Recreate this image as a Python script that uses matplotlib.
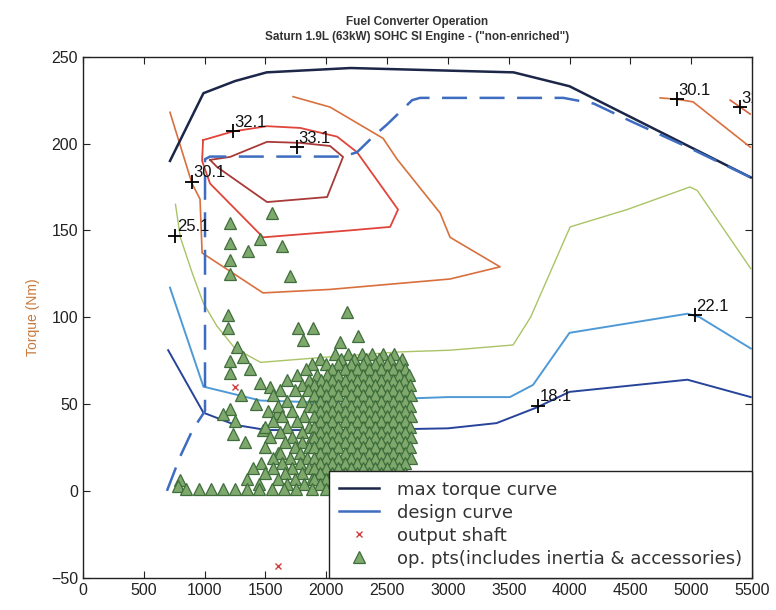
import matplotlib
matplotlib.use("Agg")
import matplotlib.pyplot as plt
from matplotlib.lines import Line2D

plt.rcParams['font.family'] = ['Liberation Sans', 'DejaVu Sans']

# ---------------- data ----------------
max_rpm = [715, 990, 1250, 1510, 2200, 3540, 4000, 5490]
max_T = [190, 229, 236, 241, 243.5, 241, 233, 180.5]

design_rpm = [690, 800, 900, 1003, 1003, 1044, 2138, 2253, 2385, 2500, 2706, 2771, 3950, 4200, 4500, 5000, 5490]
design_T = [0, 20, 35, 46, 191, 192.5, 192.5, 195, 204, 211, 225, 226.3, 226.3, 223, 213, 197, 180.5]

c18_rpm = [700, 990, 1250, 1510, 2000, 2600, 3000, 3400, 3730, 4000, 4970, 5490]
c18_T = [81, 45, 38, 35, 35, 35.5, 36, 39, 48, 57, 64, 54]

c22_rpm = [715, 990, 1460, 1920, 2600, 3000, 3510, 3700, 4000, 4970, 5070, 5490]
c22_T = [117, 60, 52, 51, 53, 54, 54, 61, 91, 102, 100, 82]

c25_rpm = [760, 800, 900, 990, 1100, 1250, 1460, 2000, 2600, 3020, 3536, 3680, 4005, 4474, 4990, 5050, 5490]
c25_T = [165, 146, 125, 108, 95, 82, 74, 77, 80, 81, 84, 100, 152, 162, 175, 173, 128]

c30_rpm = [715, 896, 962, 979, 1480, 2031, 3018, 3429, 3018, 2936, 2582, 2467, 2031, 1727]
c30_T = [218, 177, 168, 137, 114, 116, 122, 129, 146, 160, 191, 203, 221, 227]

c30b_rpm = [4745, 4885, 5016, 5485]
c30b_T = [226.3, 225.5, 224, 198]

c31_rpm = [5321, 5403, 5485]
c31_T = [225, 221, 217]

c32_rpm = [987, 1234, 1513, 1785, 2089, 2253, 2590, 2525, 2196, 1480, 1044, 979, 987]
c32_T = [202, 207, 210, 209, 204, 195, 162, 152, 150, 146, 177, 190, 202]

c33_rpm = [1044, 1209, 1513, 1785, 2031, 2138, 2007, 1513, 1102, 1044]
c33_T = [190.6, 192.3, 201, 200.4, 198.6, 192.3, 169.2, 166.3, 186.5, 190.6]

label_text = ["18.1", "22.1", "25.1", "30.1", "30.1", "31.1", "32.1", "33.1"]
label_rpm = [3740, 5030, 760, 896, 4885, 5403, 1234, 1760]
label_T = [49, 101, 147, 178, 225.5, 221, 207, 198]

# operating points: scattered ones
scat_rpm = [1209, 1554, 1456, 1636, 1209, 1357, 1209, 1209, 1702, 2171, 1192, 1192,
            1768, 1891, 1809, 2113, 2261, 1266, 1316, 1209, 1373, 1209, 1456, 1538,
            1209, 1233, 1595, 800, 780, 1250, 1300, 1420, 1150, 1330, 1480, 1600]
scat_T = [154, 160, 145, 141, 143, 138, 133, 125, 124, 103, 101, 94,
          94, 94, 87, 86, 89, 83, 77, 75, 70, 68, 62, 60,
          47, 33, 45, 6, 3, 40, 55, 50, 44, 28, 35, 22]

# operating points: dense cloud, one list of speeds per torque row
row_T = [79, 76, 73, 70, 67, 64, 61, 58, 55, 52, 49, 46, 43, 40, 37, 34,
         31, 28, 25, 22, 19, 16, 13, 10, 7, 4, 1]
row_rpm = [
    [2070, 2180, 2290, 2380, 2470, 2560],
    [1950, 2120, 2230, 2330, 2430, 2520, 2620],
    [1880, 2000, 2100, 2200, 2300, 2400, 2500, 2600],
    [1830, 2050, 2150, 2250, 2350, 2450, 2550, 2650],
    [1760, 1920, 2010, 2100, 2200, 2300, 2400, 2500, 2600, 2680],
    [1680, 1860, 1960, 2050, 2150, 2250, 2350, 2450, 2550, 2640],
    [1800, 1900, 2000, 2100, 2200, 2300, 2400, 2500, 2600, 2690],
    [1620, 1740, 1850, 1950, 2050, 2150, 2250, 2350, 2450, 2550, 2650],
    [1560, 1900, 2000, 2100, 2200, 2300, 2400, 2500, 2600, 2700],
    [1680, 1800, 1950, 2050, 2150, 2250, 2350, 2450, 2550, 2650],
    [1600, 1860, 1900, 2000, 2100, 2200, 2300, 2400, 2500, 2600, 2690],
    [1520, 1720, 1950, 2050, 2150, 2250, 2350, 2450, 2550, 2650],
    [1640, 1820, 1900, 2000, 2100, 2200, 2300, 2400, 2500, 2600, 2700],
    [1560, 1760, 1950, 2050, 2150, 2250, 2350, 2450, 2550, 2650],
    [1500, 1680, 1860, 1900, 2000, 2100, 2200, 2300, 2400, 2500, 2600, 2690],
    [1620, 1800, 1950, 2050, 2150, 2250, 2350, 2450, 2550, 2650],
    [1540, 1720, 1880, 1900, 2000, 2100, 2200, 2300, 2400, 2500, 2600, 2700],
    [1660, 1800, 1950, 2050, 2150, 2250, 2350, 2450, 2550, 2650],
    [1500, 1740, 1860, 1900, 2000, 2100, 2200, 2300, 2400, 2500, 2600, 2690],
    [1620, 1780, 1950, 2050, 2150, 2250, 2350, 2450, 2550, 2650],
    [1560, 1700, 1840, 1900, 2000, 2100, 2200, 2300, 2400, 2500, 2600, 2700],
    [1460, 1640, 1780, 1950, 2050, 2150, 2250, 2350, 2450, 2550, 2650],
    [1400, 1560, 1720, 1860, 1900, 2000, 2100, 2200, 2300, 2400, 2500, 2600],
    [1500, 1660, 1800, 1950, 2050, 2150, 2250, 2350, 2450, 2550, 2650],
    [1350, 1600, 1740, 1880, 1900, 2000, 2100, 2200, 2300, 2400, 2500, 2600],
    [1450, 1680, 1820, 1950, 2050, 2150, 2250, 2350, 2450, 2550],
    [850, 950, 1050, 1150, 1250, 1350, 1450, 1550, 1650, 1750, 1880, 2000, 2120, 2240, 2360, 2480, 2600],
]

out_rpm = [1600, 1250, 1800, 2100, 2400]
out_T = [-43, 60, 30, 45, 20]

xticks = [0, 500, 1000, 1500, 2000, 2500, 3000, 3500, 4000, 4500, 5000, 5500]
yticks = [-50, 0, 50, 100, 150, 200, 250]

# ---------------- figure ----------------
fig = plt.figure(figsize=(7.76, 6.10), dpi=100)
ax = fig.add_axes([0.107, 0.053, 0.862, 0.854])

contour_specs = [
    (c18_rpm, c18_T, '#27449a', 1.4),
    (c22_rpm, c22_T, '#4f9ad6', 1.4),
    (c25_rpm, c25_T, '#a9c466', 1.0),
    (c30_rpm, c30_T, '#d8703e', 1.2),
    (c30b_rpm, c30b_T, '#d8703e', 1.2),
    (c31_rpm, c31_T, '#d9603a', 1.2),
    (c32_rpm, c32_T, '#e0443a', 1.3),
    (c33_rpm, c33_T, '#a83a38', 1.3),
]
for xs, ys, col, lw in contour_specs:
    ax.plot(xs, ys, color=col, lw=lw, zorder=2)

for txt, lx, ly in zip(label_text, label_rpm, label_T):
    ax.plot([lx], [ly], marker='+', color='black', ms=10, mew=1.3, zorder=6)
    ax.annotate(txt, (lx, ly), xytext=(1, 1), textcoords='offset points',
                ha='left', va='bottom', fontsize=12, color='#111111',
                zorder=6, annotation_clip=True, clip_on=True)

ax.plot(max_rpm, max_T, color='#1b2648', lw=1.8, zorder=4)
ax.plot(design_rpm, design_T, color='#3d6cc0', lw=1.8, dashes=(10, 5), zorder=4)

ax.plot(out_rpm, out_T, 'x', color='#d04040', ms=5, mew=1.0, zorder=3)

op_x = list(scat_rpm)
op_y = list(scat_T)
for t, rpms in zip(row_T, row_rpm):
    for r in rpms:
        op_x.append(r)
        op_y.append(t)
ax.plot(op_x, op_y, '^', ms=8.5, mfc='#7ea86c', mec='#3f6e3c', mew=0.9, zorder=3)

ax.set_xlim(0, 5500)
ax.set_ylim(-50, 250)
ax.set_xticks(xticks)
ax.set_yticks(yticks)
ax.tick_params(direction='in', top=True, right=True, length=5, labelsize=11.5,
               colors='#222222')
for s in ax.spines.values():
    s.set_color('#222222')
    s.set_linewidth(1.0)

ax.set_ylabel('Torque (Nm)', fontsize=10, color='#c8783c', labelpad=8)
ax.set_title('Fuel Converter Operation\nSaturn 1.9L (63kW) SOHC SI Engine - ("non-enriched")',
             fontsize=8.5, fontweight='bold', color='#333333', pad=12, linespacing=1.3)

handles = [
    Line2D([], [], color='#1b2648', lw=1.8),
    Line2D([], [], color='#3d6cc0', lw=1.8),
    Line2D([], [], ls='none', marker='x', color='#d04040', ms=5, mew=1.0),
    Line2D([], [], ls='none', marker='^', ms=8.5, mfc='#7ea86c', mec='#3f6e3c', mew=0.9),
]
labels = ['max torque curve', 'design curve', 'output shaft',
          'op. pts(includes inertia & accessories)']
leg = ax.legend(handles, labels, loc='lower right', borderaxespad=0.0,
                prop={'family': ['DejaVu Sans'], 'size': 13},
                frameon=True, fancybox=False, framealpha=1,
                edgecolor='#222222', handlelength=2.2, labelspacing=0.28,
                borderpad=0.55, handletextpad=1.0)
leg.get_frame().set_linewidth(1.0)
leg.set_zorder(10)
for t in leg.get_texts():
    t.set_color('#333333')

fig.savefig('out.png', dpi=100)
